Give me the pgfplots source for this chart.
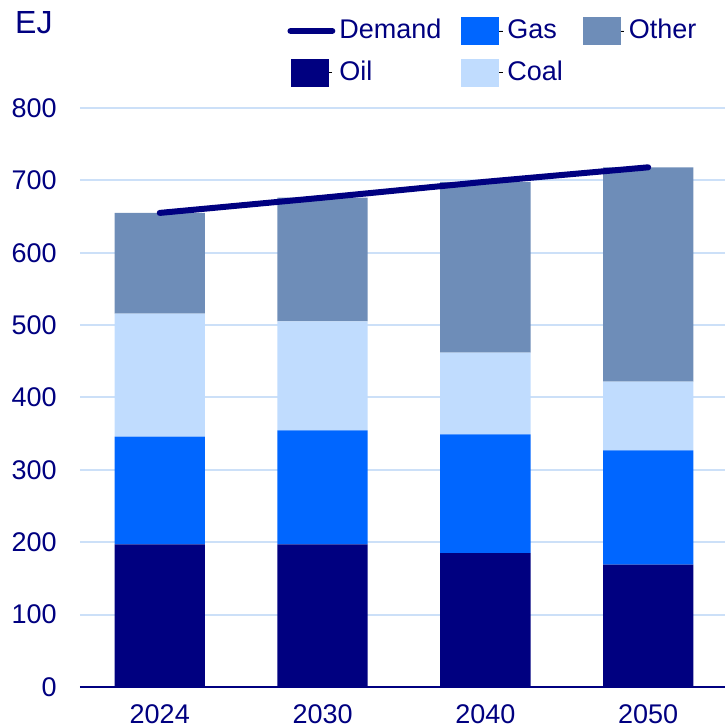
\documentclass[border=0pt]{standalone}
\usepackage{pgfplots}
\pgfplotsset{compat=1.18}
\usepackage{fontspec}
\setmainfont{Liberation Sans}

\definecolor{navy}{HTML}{000080}
\definecolor{gasc}{HTML}{0066FF}
\definecolor{coalc}{HTML}{C0DCFE}
\definecolor{otherc}{HTML}{6E8DB8}
\definecolor{gridc}{HTML}{CCE0F8}

\pgfplotsset{
  base/.style={width=322.5pt, height=289.5pt, scale only axis,
    xmin=-0.49, xmax=3.472, ymin=0, ymax=800, clip=false},
  boxleg/.style={legend image code/.code={\fill[##1, draw=none] (0pt,-7pt) rectangle (19pt,7pt);
      \path (19pt,0pt) -- (20.75pt,0pt);}},
  lineleg/.style={legend image code/.code={\draw[##1] (1.5pt,0pt) -- (17pt,0pt);
      \path (0pt,0pt) -- (20.75pt,0pt);}},
}

\begin{document}
\fontsize{13.5}{16}\selectfont
\begin{tikzpicture}
% stacked bars
\begin{axis}[base, ybar stacked, bar width=0.555,
  ytick={0,100,...,800}, xtick={0,1,2,3},
  xticklabels={2024,2030,2040,2050},
  ymajorgrids, grid style={color=gridc, line width=1pt},
  axis lines*=left,
  x axis line style={draw=navy, line width=1.3pt, -},
  y axis line style={draw=none},
  major tick length=0pt,
  tick label style={text=navy, inner sep=0pt, font=\fontsize{13.5}{16}\selectfont},
  /pgf/number format/assume math mode=true,
  yticklabel style={xshift=-11.5pt},
  xticklabel style={yshift=-8.5pt}]
\addplot[fill=navy, draw=none] coordinates {(0,197) (1,197) (2,185) (3,169)};
\addplot[fill=gasc, draw=none] coordinates {(0,149) (1,157.5) (2,164) (3,158)};
\addplot[fill=coalc, draw=none] coordinates {(0,170) (1,150.5) (2,113) (3,95)};
\addplot[fill=otherc, draw=none] coordinates {(0,139) (1,171) (2,236) (3,296)};
\node[anchor=west, text=navy, inner sep=0pt, font=\fontsize{16}{18}\selectfont]
  at (axis description cs:-0.101,1.147) {EJ};
\path (axis description cs:-0.124,-0.0708) rectangle (axis description cs:1,1.1865);
\end{axis}

% demand line and legend
\begin{axis}[base, hide axis,
  legend columns=3,
  legend style={draw=none, fill=none, inner sep=0pt, text=navy,
    font=\fontsize{13.5}{16}\selectfont,
    at={(0.321,1.161)}, anchor=north west,
    /tikz/every even column/.append style={column sep=8pt},
    /tikz/row sep=5pt},
  legend cell align=left]
\addlegendimage{lineleg, navy, line width=3.2pt, line cap=round}
\addlegendentry{Demand}
\addlegendimage{boxleg, fill=gasc}
\addlegendentry{Gas}
\addlegendimage{boxleg, fill=otherc}
\addlegendentry{Other}
\addlegendimage{boxleg, fill=navy}
\addlegendentry{Oil}
\addlegendimage{boxleg, fill=coalc}
\addlegendentry{Coal}
\addplot[navy, line width=3pt, line cap=round, forget plot]
  coordinates {(0,655) (1,676) (2,698) (3,718)};
\end{axis}
\end{tikzpicture}
\end{document}
